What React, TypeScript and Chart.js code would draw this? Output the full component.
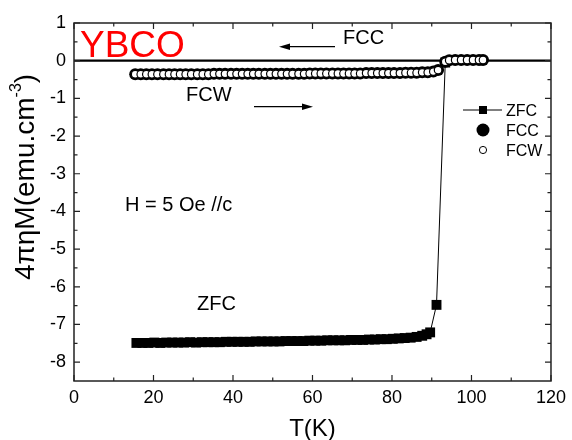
import React, { useEffect, useRef } from "react";
import { Chart, registerables } from "chart.js";

Chart.register(...registerables);

// ---- data ----
const zfcT = [
  15.7, 17.2, 18.7, 20.2, 21.7, 23.2, 24.7, 26.2, 27.7, 29.2, 30.7, 32.2, 33.7, 35.2, 36.7, 38.2,
  39.7, 41.2, 42.7, 44.2, 45.7, 47.2, 48.7, 50.2, 51.7, 53.2, 54.7, 56.2, 57.7, 59.2, 60.7, 62.2,
  63.7, 65.2, 66.7, 68.2, 69.7, 71.2, 72.7, 74.2, 75.7, 77.2, 78.7, 80.2, 81.7, 83.2, 84.7, 86.2,
  87.6, 88.7, 89.6, 91.2, 93.4,
];
const zfcM = [
  -7.49, -7.49, -7.49, -7.48, -7.49, -7.48, -7.48, -7.48, -7.48, -7.47, -7.48, -7.47, -7.47, -7.47, -7.47, -7.46,
  -7.46, -7.46, -7.46, -7.46, -7.45, -7.45, -7.45, -7.45, -7.45, -7.44, -7.44, -7.44, -7.44, -7.43, -7.43, -7.43,
  -7.42, -7.42, -7.42, -7.42, -7.41, -7.41, -7.41, -7.4, -7.4, -7.39, -7.39, -7.38, -7.37, -7.36, -7.35, -7.33,
  -7.3, -7.26, -7.21, -6.48, -0.05,
];
const fcwT = [
  15.4, 16.8, 18.2, 19.6, 21.0, 22.5, 23.9, 25.3, 26.7, 28.1, 29.5, 31.0, 32.4, 33.8, 35.2, 36.6,
  38.0, 39.5, 40.9, 42.3, 43.7, 45.1, 46.5, 48.0, 49.4, 50.8, 52.2, 53.6, 55.0, 56.5, 57.9, 59.3,
  60.7, 62.1, 63.5, 65.0, 66.4, 67.8, 69.2, 70.6, 72.0, 73.5, 74.9, 76.3, 77.7, 79.1, 80.5, 82.0,
  83.4, 84.8, 86.2, 87.6, 89.0, 90.4, 91.6, 93.4, 94.4, 95.9, 97.4, 98.9, 100.4, 101.9, 102.9,
];
const fcwM = [
  -0.36, -0.36, -0.36, -0.36, -0.36, -0.36, -0.36, -0.36, -0.36, -0.36, -0.36, -0.36, -0.36, -0.36, -0.35, -0.35,
  -0.35, -0.35, -0.35, -0.35, -0.35, -0.35, -0.35, -0.35, -0.35, -0.35, -0.35, -0.35, -0.35, -0.35, -0.35, -0.34,
  -0.34, -0.34, -0.34, -0.34, -0.34, -0.34, -0.34, -0.34, -0.34, -0.33, -0.33, -0.33, -0.33, -0.33, -0.33, -0.33,
  -0.32, -0.32, -0.32, -0.31, -0.31, -0.29, -0.25, -0.03, 0.01, 0.02, 0.02, 0.02, 0.02, 0.02, 0.02,
];
const fccT = fcwT;
const fccM = fcwM;

const xTicks = [0, 20, 40, 60, 80, 100, 120];
const xMinor = [10, 30, 50, 70, 90, 110];
const yTicks = [-8, -7, -6, -5, -4, -3, -2, -1, 0, 1];
const yMinor = [-7.5, -6.5, -5.5, -4.5, -3.5, -2.5, -1.5, -0.5, 0.5];

const xTitle = "T(K)";
const yTitleMain = "4πηM(emu.cm";
const yTitleSup = "-3";
const yTitleEnd = ")";

const FONT = "'Liberation Sans', Arial, sans-serif";

function arrow(ctx: CanvasRenderingContext2D, x1: number, y: number, x2: number) {
  const dir = x2 > x1 ? 1 : -1;
  ctx.beginPath();
  ctx.moveTo(x1, y);
  ctx.lineTo(x2 - dir * 8, y);
  ctx.lineWidth = 1.2;
  ctx.strokeStyle = "#000";
  ctx.stroke();
  ctx.beginPath();
  ctx.moveTo(x2, y);
  ctx.lineTo(x2 - dir * 11, y - 3.2);
  ctx.lineTo(x2 - dir * 11, y + 3.2);
  ctx.closePath();
  ctx.fillStyle = "#000";
  ctx.fill();
}

const decor = {
  id: "decor",
  beforeDatasetsDraw(chart: any) {
    const { ctx, chartArea: a, scales } = chart;
    const y0 = scales.y.getPixelForValue(0);
    ctx.save();
    ctx.strokeStyle = "#000";
    ctx.lineWidth = 2.2;
    ctx.beginPath();
    ctx.moveTo(a.left, y0);
    ctx.lineTo(a.right, y0);
    ctx.stroke();
    ctx.restore();
  },
  afterDraw(chart: any) {
    const { ctx, chartArea: a, scales } = chart;
    const xs = scales.x;
    const ys = scales.y;
    ctx.save();
    // frame
    ctx.strokeStyle = "#222";
    ctx.lineWidth = 1.5;
    ctx.strokeRect(a.left, a.top, a.right - a.left, a.bottom - a.top);
    // ticks
    ctx.lineWidth = 1.2;
    const tickX = (v: number, len: number) => {
      const px = xs.getPixelForValue(v);
      ctx.beginPath();
      ctx.moveTo(px, a.bottom);
      ctx.lineTo(px, a.bottom - len);
      ctx.moveTo(px, a.top);
      ctx.lineTo(px, a.top + len);
      ctx.stroke();
    };
    const tickY = (v: number, len: number) => {
      const py = ys.getPixelForValue(v);
      ctx.beginPath();
      ctx.moveTo(a.left, py);
      ctx.lineTo(a.left + len, py);
      ctx.moveTo(a.right, py);
      ctx.lineTo(a.right - len, py);
      ctx.stroke();
    };
    xTicks.forEach((v) => tickX(v, 6));
    xMinor.forEach((v) => tickX(v, 3.5));
    yTicks.forEach((v) => tickY(v, 6));
    yMinor.forEach((v) => tickY(v, 3.5));

    // annotations
    ctx.fillStyle = "#ff0000";
    ctx.font = `37px ${FONT}`;
    ctx.textAlign = "left";
    ctx.textBaseline = "alphabetic";
    ctx.fillText("YBCO", 80, 57);

    ctx.fillStyle = "#000";
    ctx.font = `20px ${FONT}`;
    ctx.fillText("FCC", 343, 44);
    ctx.fillText("FCW", 186, 101);
    ctx.fillText("H = 5 Oe //c", 125, 211);
    ctx.fillText("ZFC", 197, 310);
    arrow(ctx, 335, 46.7, 279);
    arrow(ctx, 254, 106.7, 313);

    // legend
    ctx.font = `16px ${FONT}`;
    ctx.strokeStyle = "#000";
    ctx.lineWidth = 1;
    ctx.beginPath();
    ctx.moveTo(463, 110);
    ctx.lineTo(502, 110);
    ctx.stroke();
    ctx.fillRect(479, 106, 8, 8);
    ctx.fillText("ZFC", 506, 116);
    ctx.beginPath();
    ctx.arc(483, 130, 6.5, 0, Math.PI * 2);
    ctx.fill();
    ctx.fillText("FCC", 506, 136);
    ctx.beginPath();
    ctx.arc(483, 150, 3.6, 0, Math.PI * 2);
    ctx.fillStyle = "#fff";
    ctx.fill();
    ctx.stroke();
    ctx.fillStyle = "#000";
    ctx.fillText("FCW", 506, 156);

    // x title
    ctx.font = `24px ${FONT}`;
    ctx.textAlign = "center";
    ctx.fillText(xTitle, (a.left + a.right) / 2, 436);

    // y title
    ctx.translate(26, 177);
    ctx.rotate(-Math.PI / 2);
    ctx.textAlign = "left";
    ctx.textBaseline = "middle";
    ctx.font = `28px ${FONT}`;
    const w1 = ctx.measureText(yTitleMain).width;
    const w3 = ctx.measureText(yTitleEnd).width;
    ctx.font = `16px ${FONT}`;
    const w2 = ctx.measureText(yTitleSup).width;
    let sx = -(w1 + w2 + w3) / 2;
    ctx.font = `28px ${FONT}`;
    ctx.fillText(yTitleMain, sx, 0);
    sx += w1;
    ctx.font = `16px ${FONT}`;
    ctx.fillText(yTitleSup, sx, -9);
    sx += w2;
    ctx.font = `28px ${FONT}`;
    ctx.fillText(yTitleEnd, sx, 0);
    ctx.restore();
  },
};

export default function App() {
  const ref = useRef<HTMLCanvasElement | null>(null);
  useEffect(() => {
    if (!ref.current) return;
    const chart = new Chart(ref.current, {
      type: "scatter",
      data: {
        datasets: [
          {
            label: "FCW",
            data: fcwT.map((t, i) => ({ x: t, y: fcwM[i] })),
            pointStyle: "circle",
            pointRadius: 3.8,
            pointBackgroundColor: "#fff",
            pointBorderColor: "#000",
            pointBorderWidth: 1.2,
            showLine: false,
            order: 1,
          },
          {
            label: "FCC",
            data: fccT.map((t, i) => ({ x: t, y: fccM[i] })),
            pointStyle: "circle",
            pointRadius: 6,
            pointBackgroundColor: "#000",
            pointBorderColor: "#000",
            pointBorderWidth: 0,
            showLine: false,
            order: 2,
          },
          {
            label: "ZFC",
            data: zfcT.map((t, i) => ({ x: t, y: zfcM[i] })),
            pointStyle: "rect",
            pointRadius: 7,
            pointBackgroundColor: "#000",
            pointBorderColor: "#000",
            pointBorderWidth: 0,
            showLine: true,
            borderColor: "#000",
            borderWidth: 1,
            order: 3,
          },
        ],
      },
      options: {
        animation: false,
        responsive: false,
        events: [],
        layout: { padding: { top: 23, right: 18, left: 0, bottom: 0 } },
        plugins: { legend: { display: false }, tooltip: { enabled: false } },
        scales: {
          x: {
            type: "linear",
            min: 0,
            max: 120,
            grid: { display: false, drawTicks: false },
            border: { display: false },
            ticks: { color: "#000", font: { size: 18, family: FONT }, padding: 6, maxRotation: 0 },
            afterBuildTicks: (s: any) => {
              s.ticks = xTicks.map((v) => ({ value: v }));
            },
            afterFit: (s: any) => {
              s.height = 59;
            },
          },
          y: {
            type: "linear",
            min: -8.5,
            max: 1,
            grid: { display: false, drawTicks: false },
            border: { display: false },
            ticks: { color: "#000", font: { size: 18, family: FONT }, padding: 8 },
            afterBuildTicks: (s: any) => {
              s.ticks = yTicks.map((v) => ({ value: v }));
            },
            afterFit: (s: any) => {
              s.width = 74;
            },
          },
        },
      } as any,
      plugins: [decor],
    });
    return () => chart.destroy();
  }, []);
  return (
    <div style={{ position: "absolute", left: 0, top: 0, width: 572, height: 440, background: "#fff" }}>
      <canvas ref={ref} width={572} height={440} style={{ width: 572, height: 440 }} />
    </div>
  );
}
